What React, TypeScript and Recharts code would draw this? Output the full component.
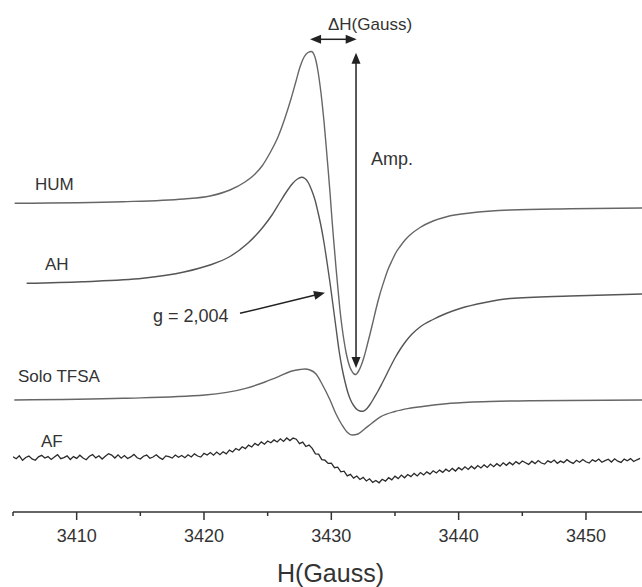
import React from 'react';
import { LineChart, Line, XAxis, YAxis, ReferenceLine } from 'recharts';

//================================================================================
// EPR spectra (derivative), intensity in arbitrary units, curves stacked
//================================================================================

const humField = [
	3405.13, 3413.64, 3418.43, 3420.47, 3422.04, 3423.22, 3424.01, 3424.56, 3425.18,
	3425.81, 3426.36, 3426.83, 3427.23, 3427.54, 3427.86, 3428.17, 3428.44, 3428.64,
	3428.8, 3428.95, 3429.11, 3429.27, 3429.43, 3429.58, 3429.74, 3429.9, 3430.05,
	3430.21, 3430.37, 3430.53, 3430.68, 3430.84, 3431.0, 3431.15, 3431.31, 3431.47,
	3431.63, 3431.78, 3431.94, 3432.1, 3432.33, 3432.57, 3432.8, 3433.04, 3433.27,
	3433.51, 3433.82, 3434.14, 3434.45, 3434.77, 3435.08, 3435.4, 3435.79, 3436.18,
	3436.97, 3437.99, 3439.06, 3440.89, 3444.03, 3448.75, 3454.4,
];
const humSignal = [
	308.7, 310.3, 313, 316, 322, 330, 338, 346, 359, 375, 394, 413, 431, 445, 455,
	459.5, 460.5, 457.5, 451, 441, 427, 410, 390, 368, 344, 319, 293, 268, 244, 222,
	202, 185, 171, 160, 151, 144.5, 140.5, 138, 137.5, 140, 146, 155, 166, 178, 190,
	203, 218, 231, 242.5, 251.5, 259.5, 265.5, 272, 277, 284.5, 291, 295.3, 299, 302,
	303.2, 304,
];

const ahField = [
	3406.07, 3410.42, 3415.21, 3418.43, 3420.47, 3422.04, 3423.46, 3424.64, 3425.34,
	3425.97, 3426.52, 3426.99, 3427.34, 3427.66, 3427.93, 3428.21, 3428.48, 3428.72,
	3428.95, 3429.19, 3429.43, 3429.66, 3429.9, 3430.13, 3430.37, 3430.6, 3430.84,
	3431.08, 3431.31, 3431.55, 3431.78, 3432.02, 3432.25, 3432.41, 3432.57, 3432.8,
	3433.04, 3433.35, 3433.67, 3433.98, 3434.3, 3434.61, 3435.0, 3435.4, 3435.87,
	3436.34, 3436.97, 3437.99, 3439.01, 3440.11, 3442.07, 3444.03, 3448.75, 3454.4,
];
const ahSignal = [
	228.7, 230.3, 233.7, 240, 247, 255.5, 269, 285, 297, 310, 321, 329, 333, 334.7,
	333.5, 329, 321, 312, 300, 286, 269, 250, 229, 207, 184, 162, 144, 130, 119, 111,
	106, 102.5, 101, 100.7, 101.2, 103.5, 107.5, 114, 121, 128.5, 136.5, 144.5, 154,
	162.5, 171, 178, 185, 192.5, 198.5, 203.5, 209.5, 213.5, 216, 218,
];

const tfsaField = [
	3405.1, 3413.64, 3420.08, 3423.28, 3424.79, 3425.85, 3426.91, 3427.54, 3427.93,
	3428.33, 3428.8, 3429.27, 3429.9, 3430.37, 3430.84, 3431.23, 3431.63, 3432.1,
	3432.61, 3433.2, 3433.89, 3435.0, 3436.14, 3437.75, 3439.36, 3442.46, 3445.76,
	3454.4,
];
const tfsaSignal = [
	112, 113.7, 117, 123.7, 130, 135.3, 141, 142.5, 143, 142, 138, 128, 112, 98, 87,
	80, 77, 78, 83, 89, 95.3, 100.5, 103.7, 106.5, 108.7, 110.5, 111.3, 112,
];

// AF is noisy, sampled every 0.25 G from 3405 G
const afStart = 3405;
const afStep = 0.25;
const afSignal = [
	55.2, 53.2, 56.2, 51.7, 54.5, 55.9, 53.1, 51.7, 55.2, 56.7, 53.9, 55.4, 52.5, 54.9,
	57.3, 53.3, 54.4, 56.1, 52.5, 55.4, 53.6, 56.8, 54.0, 52.3, 55.7, 57.4, 54.1, 56.2,
	53.0, 55.8, 58.3, 56.9, 54.0, 57.1, 53.8,
	56.4, 53.5, 55.1, 57.6, 54.2, 52.9, 55.8, 56.9, 53.7, 55.0, 57.2, 54.4, 52.6, 56.1,
	55.3, 53.9, 57.0, 54.8, 56.5,
	54.3, 57.2, 55.0, 58.1, 56.0, 54.9, 58.6, 57.0, 59.4, 56.8, 59.9, 57.3, 60.2,
	58.1, 61.8, 60.0, 63.5, 61.7, 65.2, 63.4, 66.9, 65.0, 68.6, 66.5, 70.1,
	67.8, 71.0, 69.2, 72.1, 70.0, 73.2, 70.6, 74.0, 71.4, 73.9,
	72.8, 68.4, 69.9, 65.5, 66.9,
	63.6, 58.1, 57.9, 52.4, 51.8,
	48.6, 48.9, 44.3, 44.9, 40.2, 40.8, 36.1,
	37.7, 33.9, 36.0, 32.5, 34.6, 31.0, 33.2, 29.6, 31.5,
	29.2, 32.7, 30.9, 34.3, 32.1, 35.8, 33.4, 36.9,
	34.2, 37.5, 35.4, 38.6, 36.1, 39.4, 37.0, 40.1, 37.9, 41.2, 39.0, 41.9, 39.6, 42.8,
	40.5,
	43.6, 41.0, 44.3, 42.1, 45.2, 42.6, 45.8, 43.2, 46.4, 44.0, 47.1, 44.6, 47.9, 45.3,
	48.3, 45.9, 49.2, 46.7, 49.6,
	47.2, 50.4, 48.1, 51.0, 49.3, 47.6, 50.8, 48.4, 51.5, 49.0, 47.9, 51.2, 49.6, 52.0,
	48.7, 50.9, 49.3, 52.3, 50.1, 48.6, 51.7, 49.8, 52.5, 50.2, 48.9, 52.1, 50.6, 53.0,
	49.7, 51.4, 52.8, 50.0, 53.2, 50.8, 49.6, 52.9, 51.2, 53.4, 50.5, 52.2, 53.6,
];

const fieldTicks = [3405, 3410, 3415, 3420, 3425, 3430, 3435, 3440, 3445, 3450];

const zip = (xs: number[], ys: number[]) => xs.map((h, i) => ({ h, v: ys[i] }));
const humData = zip(humField, humSignal);
const ahData = zip(ahField, ahSignal);
const tfsaData = zip(tfsaField, tfsaSignal);
const afData = afSignal.map((v, i) => ({ h: afStart + i * afStep, v }));

const FONT = '"Liberation Sans", Arial, sans-serif';
const INK = '#333';

const FieldTick = (props: any) => {
	const { x, y, payload } = props;
	const major = payload.value % 10 === 0;
	return (
		<g>
			<line x1={x} x2={x} y1={y} y2={y + (major ? 8 : 4)} stroke={INK} strokeWidth={1.5} />
			{major && (
				<text x={x} y={y + 30} textAnchor="middle" fontSize={18} fontFamily={FONT} fill={INK}>
					{payload.value}
				</text>
			)}
		</g>
	);
};

// line with filled arrow heads
const arrowShape = (both: boolean) => (props: any) => {
	const { x1, y1, x2, y2 } = props;
	const len = 11;
	const half = 4.5;
	const dx = x2 - x1;
	const dy = y2 - y1;
	const d = Math.sqrt(dx * dx + dy * dy) || 1;
	const ux = dx / d;
	const uy = dy / d;
	const head = (tx: number, ty: number, sx: number, sy: number) => {
		const bx = tx - sx * len;
		const by = ty - sy * len;
		return `${tx},${ty} ${bx - sy * half},${by + sx * half} ${bx + sy * half},${by - sx * half}`;
	};
	return (
		<g>
			<line
				x1={both ? x1 + ux * len * 0.8 : x1}
				y1={both ? y1 + uy * len * 0.8 : y1}
				x2={x2 - ux * len * 0.8}
				y2={y2 - uy * len * 0.8}
				stroke="#222"
				strokeWidth={1.5}
			/>
			<polygon points={head(x2, y2, ux, uy)} fill="#222" />
			{both && <polygon points={head(x1, y1, -ux, -uy)} fill="#222" />}
		</g>
	);
};

const labelStyle = { fontFamily: FONT, fill: INK };

export default function App() {
	return (
		<div style={{ position: 'absolute', left: 0, top: 0, width: 642, height: 587, background: '#fff' }}>
			<LineChart width={642} height={587} margin={{ top: 12, right: 0, bottom: 5, left: 13 }}>
				<XAxis
					type="number"
					dataKey="h"
					domain={[3405, 3454.4]}
					allowDataOverflow
					ticks={fieldTicks}
					interval={0}
					tickSize={0}
					tickMargin={0}
					tickLine={false}
					tick={<FieldTick />}
					axisLine={{ stroke: INK, strokeWidth: 1.5 }}
					height={70}
					label={{
						value: 'H(Gauss)',
						position: 'insideBottom',
						offset: 0,
						dx: 3,
						fontSize: 25,
						fontFamily: FONT,
						fill: INK,
					}}
				/>
				<YAxis hide type="number" domain={[0, 500]} allowDataOverflow />
				<Line data={humData} dataKey="v" type="monotone" dot={false} stroke="#666" strokeWidth={1.4} isAnimationActive={false} />
				<Line data={ahData} dataKey="v" type="monotone" dot={false} stroke="#555" strokeWidth={1.4} isAnimationActive={false} />
				<Line data={tfsaData} dataKey="v" type="monotone" dot={false} stroke="#666" strokeWidth={1.4} isAnimationActive={false} />
				<Line data={afData} dataKey="v" type="linear" dot={false} stroke="#2a2a2a" strokeWidth={1.3} isAnimationActive={false} />
				<ReferenceLine
					segment={[{ x: 3428.33, y: 472.7 }, { x: 3431.99, y: 472.7 }]}
					shape={arrowShape(true)}
				/>
				<ReferenceLine
					segment={[{ x: 3431.94, y: 459.3 }, { x: 3431.94, y: 144 }]}
					shape={arrowShape(true)}
				/>
				<ReferenceLine
					segment={[{ x: 3422.83, y: 198.7 }, { x: 3429.5, y: 219.3 }]}
					shape={arrowShape(false)}
				/>
			</LineChart>
			<svg width={642} height={587} style={{ position: 'absolute', left: 0, top: 0, pointerEvents: 'none' }}>
				<text x={370} y={30} textAnchor="middle" fontSize={17} {...labelStyle}>ΔH(Gauss)</text>
				<text x={371} y={165} fontSize={18} {...labelStyle}>Amp.</text>
				<text x={35} y={190} fontSize={17} {...labelStyle}>HUM</text>
				<text x={45} y={270} fontSize={17} {...labelStyle}>AH</text>
				<text x={18} y={381.5} fontSize={17} {...labelStyle}>Solo TFSA</text>
				<text x={41} y={446.5} fontSize={17} {...labelStyle}>AF</text>
				<text x={153} y={321.5} fontSize={18} {...labelStyle}>g = 2,004</text>
			</svg>
		</div>
	);
}
